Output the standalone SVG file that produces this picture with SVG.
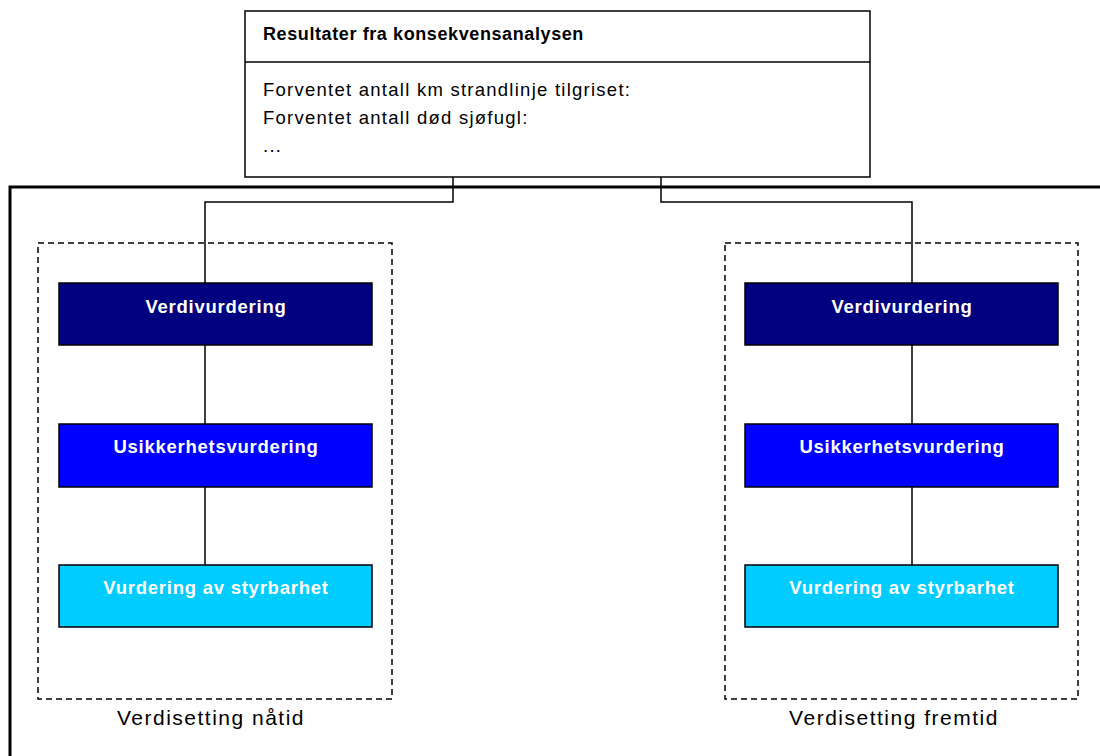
<svg xmlns="http://www.w3.org/2000/svg" width="1100" height="756" viewBox="0 0 1100 756">
<style>
.t{font-family:"Liberation Sans",Arial,sans-serif;fill:#000}
.b{font-weight:bold}
.body{font-size:18.5px;letter-spacing:1.25px}
.lbl{font-size:21px;letter-spacing:1.5px;text-anchor:middle}
.w{font-family:"Liberation Sans",Arial,sans-serif;font-weight:bold;fill:#fff;font-size:18.5px;letter-spacing:0.75px;text-anchor:middle}
.node{stroke:#000;stroke-width:1.5}
.dash{fill:none;stroke:#000;stroke-width:1.5;stroke-dasharray:6 4}
.conn{fill:none;stroke:#000;stroke-width:1.5}
</style>
<rect width="1100" height="756" fill="#fff"/>
<g id="frame"><rect x="10" y="187" width="1200" height="700" fill="none" stroke="#000" stroke-width="3"/></g>
<g id="results">
<rect x="245" y="11" width="625" height="166" fill="#fff" stroke="#000" stroke-width="1.5"/>
<line x1="245" y1="62" x2="870" y2="62" stroke="#000" stroke-width="1.5"/>
<text class="t b" x="263" y="40" font-size="18" letter-spacing="0.6">Resultater fra konsekvensanalysen</text>
<text class="t body" x="263" y="96">Forventet antall km strandlinje tilgriset:</text>
<text class="t body" x="263" y="124">Forventet antall død sjøfugl:</text>
<text class="t body" x="263" y="152">...</text>
</g>
<g id="group-natid">
<rect class="dash" x="38" y="243" width="354" height="456"/>
<text class="t lbl" x="211" y="725">Verdisetting nåtid</text>
</g>
<g id="group-fremtid">
<rect class="dash" x="725" y="243" width="353" height="456"/>
<text class="t lbl" x="894" y="725">Verdisetting fremtid</text>
</g>
<g id="connectors">
<polyline class="conn" points="453,177 453,202 205,202 205,283"/>
<polyline class="conn" points="661,177 661,202 912,202 912,283"/>
<line class="conn" x1="205" y1="345" x2="205" y2="424"/>
<line class="conn" x1="205" y1="487" x2="205" y2="565"/>
<line class="conn" x1="912" y1="345" x2="912" y2="424"/>
<line class="conn" x1="912" y1="487" x2="912" y2="565"/>
</g>
<g id="verdi-natid"><rect class="node" x="59" y="283" width="313" height="62" fill="#000080"/><text class="w" x="216" y="313">Verdivurdering</text></g>
<g id="usikker-natid"><rect class="node" x="59" y="424" width="313" height="63" fill="#0000FF"/><text class="w" x="216" y="453">Usikkerhetsvurdering</text></g>
<g id="styr-natid"><rect class="node" x="59" y="565" width="313" height="62" fill="#00CCFF"/><text class="w" x="216" y="594">Vurdering av styrbarhet</text></g>
<g id="verdi-fremtid"><rect class="node" x="745" y="283" width="313" height="62" fill="#000080"/><text class="w" x="902" y="313">Verdivurdering</text></g>
<g id="usikker-fremtid"><rect class="node" x="745" y="424" width="313" height="63" fill="#0000FF"/><text class="w" x="902" y="453">Usikkerhetsvurdering</text></g>
<g id="styr-fremtid"><rect class="node" x="745" y="565" width="313" height="62" fill="#00CCFF"/><text class="w" x="902" y="594">Vurdering av styrbarhet</text></g>
</svg>
